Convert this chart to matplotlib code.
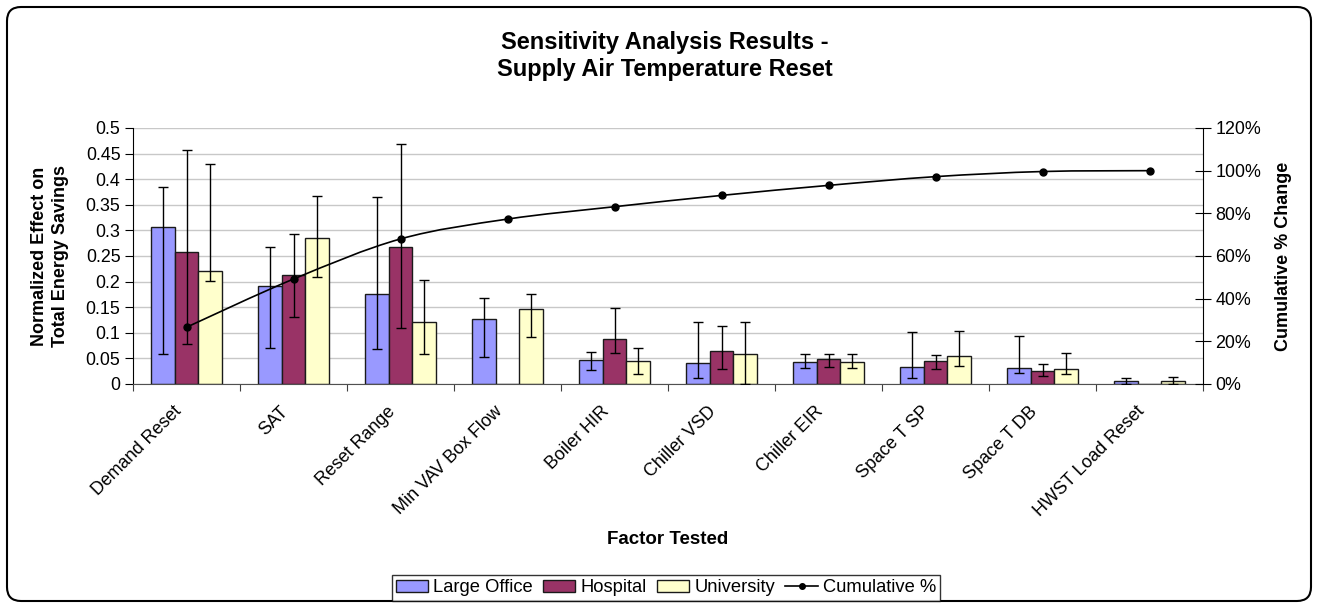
import numpy as np
import matplotlib.pyplot as plt
from matplotlib.patches import Patch, FancyBboxPatch, PathPatch
from matplotlib.lines import Line2D
from matplotlib.path import Path
from matplotlib.transforms import IdentityTransform
from matplotlib.ticker import PercentFormatter, FuncFormatter, MultipleLocator

plt.rcParams['font.family'] = ['Liberation Sans', 'DejaVu Sans']

factors = ["Demand Reset", "SAT", "Reset Range", "Min VAV Box Flow", "Boiler HIR",
           "Chiller VSD", "Chiller EIR", "Space T SP", "Space T DB", "HWST Load Reset"]

# bar heights and error bar ends (min / max)
large_office = [0.306, 0.192, 0.175, 0.126, 0.046, 0.041, 0.042, 0.034, 0.032, 0.005]
lo_low = [0.058, 0.070, 0.068, 0.053, 0.027, 0.012, 0.031, 0.012, 0.022, 0.0]
lo_high = [0.384, 0.268, 0.365, 0.168, 0.063, 0.122, 0.059, 0.102, 0.094, 0.012]

hospital = [0.257, 0.212, 0.267, 0.0, 0.088, 0.064, 0.048, 0.044, 0.025, 0.0]
hosp_low = [0.078, 0.131, 0.109, np.nan, 0.061, 0.029, 0.034, 0.029, 0.015, np.nan]
hosp_high = [0.457, 0.292, 0.469, np.nan, 0.148, 0.114, 0.059, 0.056, 0.039, np.nan]

university = [0.221, 0.285, 0.122, 0.146, 0.044, 0.058, 0.042, 0.054, 0.030, 0.005]
uni_low = [0.202, 0.209, 0.058, 0.092, 0.020, 0.0, 0.031, 0.036, 0.020, 0.0]
uni_high = [0.430, 0.367, 0.204, 0.175, 0.070, 0.122, 0.059, 0.104, 0.061, 0.014]

cumulative = [26.6, 49.2, 68.0, 77.3, 83.1, 88.4, 93.1, 97.2, 99.6, 100.0]

W, H = 1317, 604
fig = plt.figure(figsize=(W / 100, H / 100), dpi=100)
ax = fig.add_axes([133 / W, 1 - 384 / H, 1070 / W, 256 / H])

n = len(factors)
x = np.arange(n) + 0.5
bw = 0.222
series = [
    (large_office, lo_low, lo_high, '#9999FF', 'Large Office'),
    (hospital, hosp_low, hosp_high, '#993366', 'Hospital'),
    (university, uni_low, uni_high, '#FFFFCC', 'University'),
]
handles = []
for k, (vals, low, high, col, name) in enumerate(series):
    xs = x + (k - 1) * bw
    vals = np.array(vals)
    low = np.array(low)
    high = np.array(high)
    ax.bar(xs, vals, bw, color=col, edgecolor='#1a1a1a', linewidth=1, zorder=2)
    m = ~np.isnan(low)
    ax.errorbar(xs[m], vals[m], yerr=[vals[m] - low[m], high[m] - vals[m]], fmt='none',
                ecolor='black', elinewidth=1, capsize=3.6, capthick=1, zorder=3)
    handles.append(Patch(facecolor=col, edgecolor='#1a1a1a', linewidth=1, label=name))

ax.set_xlim(0, n)
ax.set_ylim(0, 0.5)
ax.yaxis.set_major_locator(MultipleLocator(0.05))
ax.yaxis.set_major_formatter(FuncFormatter(lambda v, p: f'{v:g}'))
ax.set_xticks(np.arange(n + 1))
ax.set_xticklabels([])
# labels end a little left of the group centre, as in Excel
ax.set_xticks(x - 0.075, minor=True)
ax.set_xticklabels(factors, minor=True, rotation=45, ha='right', va='center',
                   rotation_mode='anchor', fontsize=12.9)
ax.tick_params(axis='x', which='minor', length=0, pad=18)
ax.tick_params(axis='x', which='major', length=5, direction='out', color='#404040')
ax.tick_params(axis='y', length=6, direction='out', labelsize=12.9, pad=3)
ax.grid(axis='y', color='#C8C8C8', linewidth=1)
ax.set_axisbelow(True)
ax.spines['top'].set_visible(False)
ax.spines['right'].set_visible(False)
ax.spines['bottom'].set_color('#505050')

# cumulative line on the secondary axis, smoothed like Excel
ax2 = ax.twinx()
ax2.set_ylim(0, 120)
ax2.yaxis.set_major_locator(MultipleLocator(20))
ax2.yaxis.set_major_formatter(PercentFormatter(100, decimals=0))
ax2.tick_params(axis='y', length=12, direction='inout', labelsize=12.9, pad=3)
for s in ['top', 'left', 'bottom']:
    ax2.spines[s].set_visible(False)

pts = np.column_stack([x, cumulative])
ext = np.vstack([pts[0], pts, pts[-1]])
verts = [pts[0]]
codes = [Path.MOVETO]
for i in range(n - 1):
    p0, p1, p2, p3 = ext[i], ext[i + 1], ext[i + 2], ext[i + 3]
    verts += [p1 + (p2 - p0) / 6, p2 - (p3 - p1) / 6, p2]
    codes += [Path.CURVE4] * 3
ax2.add_patch(PathPatch(Path(verts, codes), facecolor='none', edgecolor='black', lw=1.2, zorder=4))
ax2.plot(x, cumulative, 'o', color='black', markersize=5, zorder=5)
handles.append(Line2D([], [], color='black', lw=1.2, marker='o', markersize=4, label='Cumulative %'))

fig.text(665 / W, 1 - 56 / H, 'Sensitivity Analysis Results -\nSupply Air Temperature Reset',
         ha='center', va='center', fontsize=17, fontweight='bold', linespacing=1.2)
fig.text(50 / W, 1 - 256 / H, 'Normalized Effect on\nTotal Energy Savings', rotation=90,
         ha='center', va='center', fontsize=13, fontweight='bold', linespacing=1.35)
fig.text(1283 / W, 1 - 256 / H, 'Cumulative % Change', rotation=90,
         ha='center', va='center', fontsize=13, fontweight='bold')
fig.text(668 / W, 1 - 540 / H, 'Factor Tested', ha='center', va='center',
         fontsize=13.5, fontweight='bold')

leg = fig.legend(handles=handles, loc='center', bbox_to_anchor=(666 / W, 1 - 588 / H), ncol=4,
                 fontsize=13.2, frameon=True, fancybox=False, edgecolor='black',
                 handlelength=1.75, handleheight=0.6, handletextpad=0.3, columnspacing=0.55,
                 borderpad=0.22, borderaxespad=0)
leg.get_frame().set_linewidth(1)

fig.patches.append(FancyBboxPatch((7, 3), 1304, 594, boxstyle='round,pad=0,rounding_size=14',
                                  transform=IdentityTransform(), facecolor='none',
                                  edgecolor='black', linewidth=1.5, figure=fig))

fig.savefig('out.png', dpi=100)
